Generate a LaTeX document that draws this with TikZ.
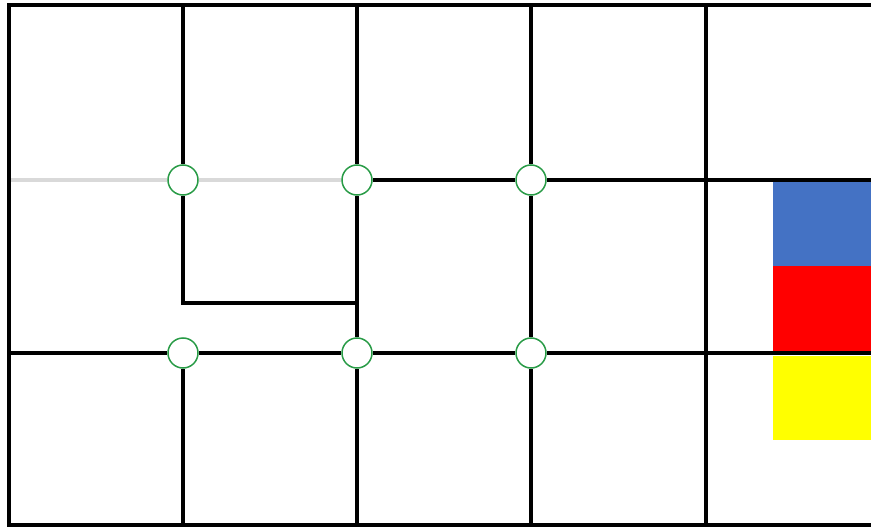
\documentclass[tikz,border=0pt]{standalone}
\definecolor{jointgreen}{RGB}{40,155,70}
\definecolor{bluebox}{RGB}{68,114,196}
\definecolor{redbox}{RGB}{255,0,0}
\definecolor{yellowbox}{RGB}{255,255,0}
\definecolor{faintgray}{RGB}{217,217,217}
\begin{document}
\begin{tikzpicture}[x=1pt,y=-1pt,
  grid/.style={line width=3.4pt,black},
  frame/.style={line width=3.8pt,black},
  faint/.style={line width=3.4pt,faintgray},
  joint/.style={circle,draw=jointgreen,line width=1.5pt,fill=white,minimum size=30pt,inner sep=0pt}]
\useasboundingbox (0,0) rectangle (871,527);
% coloured blocks
\fill[bluebox] (773,180) rectangle (871,266);
\fill[redbox] (773,266) rectangle (871,353);
\fill[yellowbox] (773,356) rectangle (871,440);
% joints
\node[joint] (j11) at (183,180) {};
\node[joint] (j12) at (357,180) {};
\node[joint] (j13) at (531,180) {};
\node[joint] (j21) at (183,353) {};
\node[joint] (j22) at (357,353) {};
\node[joint] (j23) at (531,353) {};
% free ends
\coordinate (tl) at (9,5);
\coordinate (tr) at (871,5);
\coordinate (bl) at (9,525);
\coordinate (br) at (871,525);
\coordinate (t1) at (183,5);
\coordinate (t2) at (357,5);
\coordinate (t3) at (531,5);
\coordinate (t4) at (706,5);
\coordinate (b1) at (183,525);
\coordinate (b2) at (357,525);
\coordinate (b3) at (531,525);
\coordinate (b4) at (706,525);
\coordinate (l1) at (9,180);
\coordinate (r1) at (871,180);
\coordinate (l2) at (9,353);
\coordinate (r2) at (871,353);
\coordinate (k1) at (183,303);
\coordinate (k2) at (357,303);
% grid lines
\draw[faint] (l1) -- (j11);
\draw[faint] (j11) -- (j12);
\draw[grid] (j12) -- (j13);
\draw[grid] (j13) -- (r1);
\draw[grid] (l2) -- (j21);
\draw[grid] (j21) -- (j22);
\draw[grid] (j22) -- (j23);
\draw[grid] (j23) -- (r2);
\draw[grid] (t1) -- (j11);
\draw[grid] (j11) -- (k1) -- (k2);
\draw[grid] (j21) -- (b1);
\draw[grid] (t2) -- (j12);
\draw[grid] (j12) -- (j22);
\draw[grid] (j22) -- (b2);
\draw[grid] (t3) -- (j13);
\draw[grid] (j13) -- (j23);
\draw[grid] (j23) -- (b3);
\draw[grid] (t4) -- (b4);
% outer frame (open on the right)
\draw[frame] (tr) -- (tl) -- (bl) -- (br);
\end{tikzpicture}
\end{document}
